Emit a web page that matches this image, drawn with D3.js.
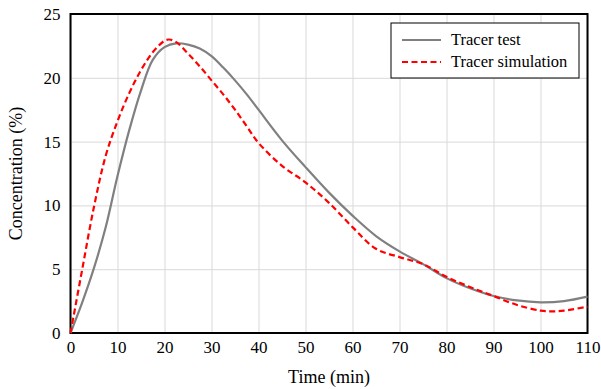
<!DOCTYPE html>
<html>
<head>
<meta charset="utf-8">
<script src="https://cdn.jsdelivr.net/npm/d3@7"></script>
<style>
  body { margin: 0; background: #fff; }
</style>
</head>
<body>
<div id="chart"></div>
<script>
// tracer test (measured)
const testTime = [0, 2.5, 5, 7.5, 10, 12.5, 15, 17.5, 20, 22.5, 25, 27.5, 30, 32.5, 35, 37.5, 40, 45, 50, 55, 60, 65, 70, 75, 80, 85, 90, 95, 100, 105, 110];
const testConc = [0, 2.4, 5.1, 8.3, 12.3, 15.9, 19.0, 21.4, 22.4, 22.7, 22.6, 22.3, 21.7, 20.8, 19.8, 18.7, 17.5, 15.1, 13.0, 11.0, 9.2, 7.6, 6.4, 5.4, 4.3, 3.5, 2.9, 2.55, 2.4, 2.5, 2.85];

// tracer simulation
const simTime = [0, 2.5, 5, 7.5, 10, 12.5, 15, 17.5, 20, 21, 22.5, 25, 27.5, 30, 32.5, 35, 37.5, 40, 45, 50, 55, 60, 65, 70, 75, 80, 85, 90, 95, 100, 102.5, 105, 110];
const simConc = [0, 5.0, 9.9, 13.9, 16.6, 18.8, 20.6, 22.0, 22.9, 23.0, 22.8, 21.9, 20.9, 19.8, 18.7, 17.5, 16.2, 14.9, 13.1, 11.8, 10.2, 8.3, 6.6, 5.95, 5.4, 4.4, 3.6, 2.9, 2.2, 1.75, 1.7, 1.75, 2.06];

const xTicks = [0, 10, 20, 30, 40, 50, 60, 70, 80, 90, 100, 110];
const yTicks = [0, 5, 10, 15, 20, 25];
const seriesNames = ["Tracer test", "Tracer simulation"];

const testData = testTime.map((t, i) => ({ t: t, c: testConc[i] }));
const simData = simTime.map((t, i) => ({ t: t, c: simConc[i] }));

const width = 601, height = 389;
const margin = { left: 70.5, right: 13.5, top: 14, bottom: 56 };
const innerW = width - margin.left - margin.right;
const innerH = height - margin.top - margin.bottom;
const serif = '"Liberation Serif"';

const svg = d3.select("#chart")
  .append("svg")
  .attr("width", width)
  .attr("height", height)
  .style("display", "block");

const chart = svg.append("g")
  .attr("transform", `translate(${margin.left},${margin.top})`);

const xScale = d3.scaleLinear()
  .domain([0, 110])
  .range([0, innerW]);

const yScale = d3.scaleLinear()
  .domain([0, 25])
  .range([innerH, 0]);

// grid + tick labels
const xAxis = d3.axisBottom(xScale)
  .tickValues(xTicks)
  .tickSize(-innerH)
  .tickPadding(8);

const xAxisGroup = chart.append("g")
  .attr("transform", `translate(0,${innerH})`)
  .call(xAxis);

xAxisGroup.select(".domain").remove();
xAxisGroup.selectAll(".tick line")
  .attr("stroke", "#d9d9d9")
  .attr("stroke-width", 1);
xAxisGroup.selectAll(".tick text")
  .attr("fill", "#000")
  .style("font-family", serif)
  .style("font-size", "17px");

const yAxis = d3.axisLeft(yScale)
  .tickValues(yTicks)
  .tickSize(-innerW)
  .tickPadding(10);

const yAxisGroup = chart.append("g")
  .call(yAxis);

yAxisGroup.select(".domain").remove();
yAxisGroup.selectAll(".tick line")
  .attr("stroke", "#d9d9d9")
  .attr("stroke-width", 1);
yAxisGroup.selectAll(".tick text")
  .attr("fill", "#000")
  .style("font-family", serif)
  .style("font-size", "17px");

// frame
chart.append("rect")
  .attr("x", 0)
  .attr("y", 0)
  .attr("width", innerW)
  .attr("height", innerH)
  .attr("fill", "none")
  .attr("stroke", "#000")
  .attr("stroke-width", 2);

// lines
const lineGenerator = d3.line()
  .x(d => xScale(d.t))
  .y(d => yScale(d.c))
  .curve(d3.curveCatmullRom.alpha(0.5));

chart.append("path")
  .datum(testData)
  .attr("d", lineGenerator)
  .attr("fill", "none")
  .attr("stroke", "#808080")
  .attr("stroke-width", 2.2);

chart.append("path")
  .datum(simData)
  .attr("d", lineGenerator)
  .attr("fill", "none")
  .attr("stroke", "#ff0000")
  .attr("stroke-width", 2.2)
  .attr("stroke-dasharray", "6,3.5");

// axis titles
svg.append("text")
  .text("Time (min)")
  .attr("x", margin.left + innerW / 2)
  .attr("y", 383)
  .attr("text-anchor", "middle")
  .attr("fill", "#000")
  .style("font-family", serif)
  .style("font-size", "18px");

svg.append("text")
  .text("Concentration (%)")
  .attr("transform", `translate(22,${margin.top + innerH / 2}) rotate(-90)`)
  .attr("text-anchor", "middle")
  .attr("fill", "#000")
  .style("font-family", serif)
  .style("font-size", "18px");

// legend
const legend = svg.append("g")
  .attr("transform", "translate(391,23)");

legend.append("rect")
  .attr("width", 188)
  .attr("height", 55)
  .attr("fill", "#fff")
  .attr("stroke", "#000")
  .attr("stroke-width", 1);

const legendStyles = [
  { color: "#808080", dash: null },
  { color: "#ff0000", dash: "6,3.5" }
];

seriesNames.forEach((name, i) => {
  const y = 17 + i * 22;
  legend.append("line")
    .attr("x1", 11)
    .attr("x2", 50)
    .attr("y1", y)
    .attr("y2", y)
    .attr("stroke", legendStyles[i].color)
    .attr("stroke-width", 2.2)
    .attr("stroke-dasharray", legendStyles[i].dash);
  legend.append("text")
    .text(name)
    .attr("x", 60)
    .attr("y", y + 5)
    .attr("fill", "#000")
    .style("font-family", serif)
    .style("font-size", "16.5px");
});
</script>
</body>
</html>
